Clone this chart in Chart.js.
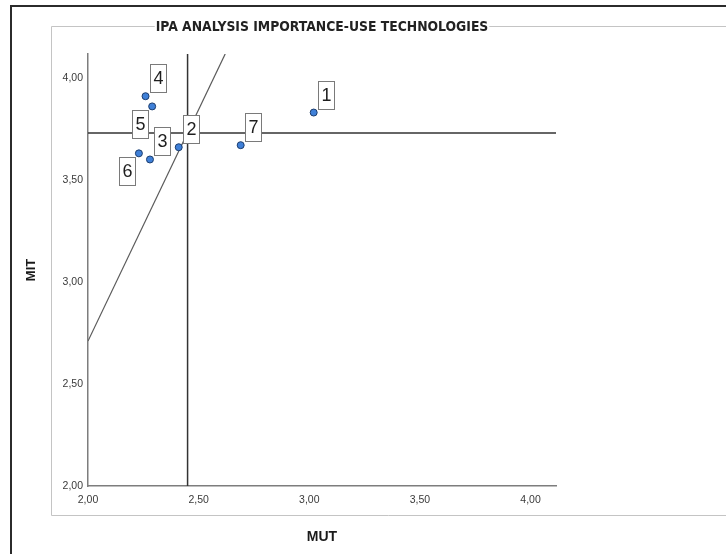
<!DOCTYPE html>
<html>
<head>
<meta charset="utf-8">
<script src="https://cdn.jsdelivr.net/npm/chart.js@4/dist/chart.umd.min.js"></script>
<style>
html,body{margin:0;padding:0;background:#fff;}
canvas{display:block;}
</style>
</head>
<body>
<canvas id="c" width="726" height="554"></canvas>
<script>
// ---- data ----
const pointLabels = ["1", "2", "3", "4", "5", "6", "7"];
const mutValues   = [3.02, 2.41, 2.28, 2.26, 2.29, 2.23, 2.69];   // x
const mitValues   = [3.83, 3.66, 3.60, 3.91, 3.86, 3.63, 3.67];   // y
const xTickValues = [2.00, 2.50, 3.00, 3.50, 4.00];
const yTickValues = [2.00, 2.50, 3.00, 3.50, 4.00];
const xRange      = [2.00, 4.115];
const yRange      = [2.00, 4.117];
const meanMUT     = [2.45];
const meanMIT     = [3.73];
const diagonalMUT = [2.00, 2.62];
const diagonalMIT = [2.71, 4.117];

const chartTitle = "IPA ANALYSIS IMPORTANCE-USE TECHNOLOGIES";
const xTitle = "MUT";
const yTitle = "MIT";

const NARROW = "'Liberation Sans Narrow', 'Arial Narrow', 'DejaVu Sans Condensed', sans-serif";
const SANS = "'Liberation Sans', Arial, sans-serif";
const TITLE_FONT = {family: NARROW, size: 13.8, weight: 'bold'};

const fmt = v => Number(v).toFixed(2).replace('.', ',');

const framePlugin = {
  id: 'frame',
  beforeDraw(chart) {
    const ctx = chart.ctx;
    const W = chart.width, H = chart.height;
    ctx.save();
    ctx.fillStyle = '#ffffff';
    ctx.fillRect(0, 0, W, H);
    // outer dark frame
    ctx.strokeStyle = '#2b2b2b';
    ctx.lineWidth = 2;
    ctx.beginPath();
    ctx.moveTo(11, H); ctx.lineTo(11, 6); ctx.lineTo(W, 6);
    ctx.stroke();
    // inner light panel, with a gap for the title
    ctx.font = `${TITLE_FONT.weight} ${TITLE_FONT.size}px ${TITLE_FONT.family}`;
    const tw = ctx.measureText(chartTitle).width;
    const cx = (chart.chartArea.left + chart.chartArea.right) / 2;
    ctx.strokeStyle = '#c4c4c4';
    ctx.lineWidth = 1;
    ctx.beginPath();
    ctx.moveTo(cx - tw / 2 - 1, 26.5); ctx.lineTo(51.5, 26.5); ctx.lineTo(51.5, 515.5); ctx.lineTo(W, 515.5);
    ctx.moveTo(cx + tw / 2 + 1, 26.5); ctx.lineTo(W, 26.5);
    ctx.stroke();
    ctx.restore();
  }
};

const boxLabelPlugin = {
  id: 'boxLabels',
  afterDatasetsDraw(chart, args, opts) {
    const meta = chart.getDatasetMeta(0);
    const ctx = chart.ctx;
    ctx.save();
    ctx.font = `18px ${SANS}`;
    ctx.textAlign = 'center';
    ctx.textBaseline = 'middle';
    meta.data.forEach((pt, i) => {
      const text = pointLabels[i];
      const w = Math.round(ctx.measureText(text).width + 6);
      const h = 28;
      const lowerLeft = (opts.lowerLeft || []).includes(text);
      const left = Math.round(lowerLeft ? pt.x - 4 - w : pt.x + 4);
      const top = Math.round(lowerLeft ? pt.y + 4 : pt.y - 4 - h);
      ctx.fillStyle = '#ffffff';
      ctx.fillRect(left, top, w, h);
      ctx.strokeStyle = '#7a7a7a';
      ctx.lineWidth = 1;
      ctx.strokeRect(left + 0.5, top + 0.5, w, h);
      ctx.fillStyle = '#1e1e1e';
      ctx.fillText(text, left + w / 2 + 0.5, top + h / 2 + 1);
    });
    ctx.restore();
  }
};

const points = mutValues.map((x, i) => ({x: x, y: mitValues[i]}));

new Chart(document.getElementById('c'), {
  type: 'scatter',
  data: {
    datasets: [
      {
        label: 'Items',
        data: points,
        pointRadius: 3.5,
        pointHoverRadius: 3.5,
        pointBackgroundColor: '#3f80d8',
        pointBorderColor: '#1c3d6e',
        pointBorderWidth: 1,
        showLine: false
      },
      {
        label: 'Mean MUT',
        data: [{x: meanMUT[0], y: yRange[0]}, {x: meanMUT[0], y: yRange[1]}],
        showLine: true, pointRadius: 0, borderColor: '#333333', borderWidth: 1.5
      },
      {
        label: 'Mean MIT',
        data: [{x: xRange[0], y: meanMIT[0]}, {x: xRange[1], y: meanMIT[0]}],
        showLine: true, pointRadius: 0, borderColor: '#333333', borderWidth: 1.5
      },
      {
        label: 'Diagonal',
        data: diagonalMUT.map((x, i) => ({x: x, y: diagonalMIT[i]})),
        showLine: true, pointRadius: 0, borderColor: '#5a5a5a', borderWidth: 1.2
      }
    ]
  },
  options: {
    responsive: false,
    devicePixelRatio: 1,
    animation: false,
    events: [],
    layout: {padding: {left: 0, top: 10, right: 170, bottom: 0}},
    plugins: {
      legend: {display: false},
      tooltip: {enabled: false},
      title: {
        display: true,
        text: chartTitle,
        fullSize: false,
        color: '#222222',
        font: TITLE_FONT,
        padding: {top: 8.7, bottom: 18.7}
      },
      boxLabels: {lowerLeft: ["5", "6"]}
    },
    scales: {
      x: {
        type: 'linear',
        min: xRange[0],
        max: xRange[1],
        afterBuildTicks: s => { s.ticks = xTickValues.map(v => ({value: v})); },
        afterFit: s => { s.height = 68; },
        grid: {display: true, drawOnChartArea: false, drawTicks: false},
        border: {display: true, color: '#7d7d7d', width: 1.5},
        ticks: {
          callback: v => fmt(v),
          font: {family: SANS, size: 10.5},
          color: '#3a3a3a',
          padding: 7.5,
          maxRotation: 0,
          autoSkip: false
        },
        title: {
          display: true,
          text: xTitle,
          font: {family: SANS, size: 14, weight: 'bold'},
          color: '#1a1a1a',
          padding: {top: 0, bottom: 8.6}
        }
      },
      y: {
        type: 'linear',
        min: yRange[0],
        max: yRange[1],
        afterBuildTicks: s => { s.ticks = yTickValues.map(v => ({value: v})); },
        afterFit: s => { s.width = 88; },
        grid: {display: true, drawOnChartArea: false, drawTicks: false},
        border: {display: true, color: '#7d7d7d', width: 1.5},
        ticks: {
          callback: v => fmt(v),
          font: {family: SANS, size: 10.5},
          color: '#3a3a3a',
          padding: 5,
          autoSkip: false
        },
        title: {
          display: true,
          text: yTitle,
          font: {family: SANS, size: 13, weight: 'bold'},
          color: '#1a1a1a',
          padding: {top: 23.2, bottom: 0}
        }
      }
    }
  },
  plugins: [framePlugin, boxLabelPlugin]
});
</script>
</body>
</html>
